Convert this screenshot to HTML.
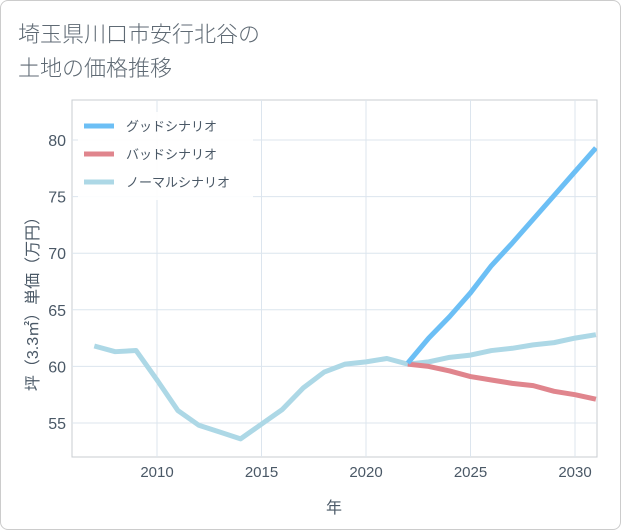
<!DOCTYPE html>
<html><head><meta charset="utf-8"><style>
body{margin:0;background:#fff;font-family:"Liberation Sans","Noto Sans CJK JP",sans-serif;}
#wrap{position:relative;width:619px;height:528px;border:1px solid #ccc;border-radius:8px;background:#fff;}
</style></head><body>
<div id="wrap">
<svg id="c" width="621" height="530" style="position:absolute;left:-1px;top:-1px"></svg>
</div>
<script>
const years=[2007,2008,2009,2010,2011,2012,2013,2014,2015,2016,2017,2018,2019,2020,2021,2022,2023,2024,2025,2026,2027,2028,2029,2030,2031];
const normalVals=[61.8,61.3,61.4,58.8,56.1,54.8,54.2,53.6,54.9,56.2,58.1,59.5,60.2,60.4,60.7,60.2,60.4,60.8,61.0,61.4,61.6,61.9,62.1,62.5,62.8];
const futureYears=[2022,2023,2024,2025,2026,2027,2028,2029,2030,2031];
const goodVals=[60.3,62.5,64.4,66.5,68.9,70.9,73.0,75.1,77.2,79.3];
const badVals=[60.2,60.0,59.6,59.1,58.8,58.5,58.3,57.8,57.5,57.1];
const xTicks=[2010,2015,2020,2025,2030];
const yTicks=[55,60,65,70,75,80];
const legendLabels=["グッドシナリオ","バッドシナリオ","ノーマルシナリオ"];
const NS="http://www.w3.org/2000/svg";
const svg=document.getElementById('c');
const L=72,R=597,T=100,B=457;
const TC='#4a5866';
const x=v=>157+(v-2010)*20.9;
const y=v=>140+(80-v)*11.32;
function mk(t,a,p){const e=document.createElementNS(NS,t);for(const k in a)e.setAttribute(k,a[k]);(p||svg).appendChild(e);return e;}
function txt(s,a){const e=mk('text',a);e.textContent=s;return e;}
const t1=txt("埼玉県川口市安行北谷の",{x:18,y:42,'font-size':22,fill:'#5f6a74','font-weight':300});

const t2=txt("土地の価格推移",{x:18,y:76,'font-size':22,fill:'#5f6a74','font-weight':300});

const pa=mk('rect',{x:L,y:T,width:R-L,height:B-T,fill:'#fff',stroke:'#c8cdd2'});

xTicks.forEach(v=>{const g=mk('line',{x1:x(v),x2:x(v),y1:T,y2:B,stroke:'#dce5ee'});
const l=txt(v,{x:x(v),y:477,'font-size':15,fill:TC,'text-anchor':'middle'});});
yTicks.forEach(v=>{const g=mk('line',{x1:L,x2:R,y1:y(v),y2:y(v),stroke:'#dce5ee'});
const l=txt(v,{x:66,y:y(v)+6,'font-size':16,fill:TC,'text-anchor':'end'});});
const xt=txt("年",{x:334,y:513,'font-size':16,fill:TC,'text-anchor':'middle'});
const yt=txt("坪（3.3㎡）単価（万円）",{x:0,y:0,'font-size':16,fill:TC,'text-anchor':'middle',transform:'translate(38,300) rotate(-90)'});
const clip=mk('clipPath',{id:'cp'});mk('rect',{x:L,y:T,width:R-L,height:B-T},clip);
function line(xs,vs,col,name){const d=xs.map((v,i)=>(i?'L':'M')+x(v)+','+y(vs[i])).join('');
const p=mk('path',{d:d,fill:'none',stroke:col,'stroke-width':5,'stroke-linejoin':'round','clip-path':'url(#cp)'});}
line(years,normalVals,'#add8e6','normal-line');
line(futureYears,badVals,'#e0858d','bad-line');
line(futureYears,goodVals,'#6cbff5','good-line');
const cols=['#6cbff5','#e0858d','#add8e6'];
const lg=mk('rect',{x:78,y:112,width:175,height:88,fill:'#fff',opacity:0.9});
legendLabels.forEach((s,i)=>{const yy=126+i*28;
const m=mk('line',{x1:84,x2:114,y1:yy,y2:yy,stroke:cols[i],'stroke-width':5});
const l=txt(s,{x:126,y:yy+5,'font-size':13,fill:TC});});
</script>
</body></html>
